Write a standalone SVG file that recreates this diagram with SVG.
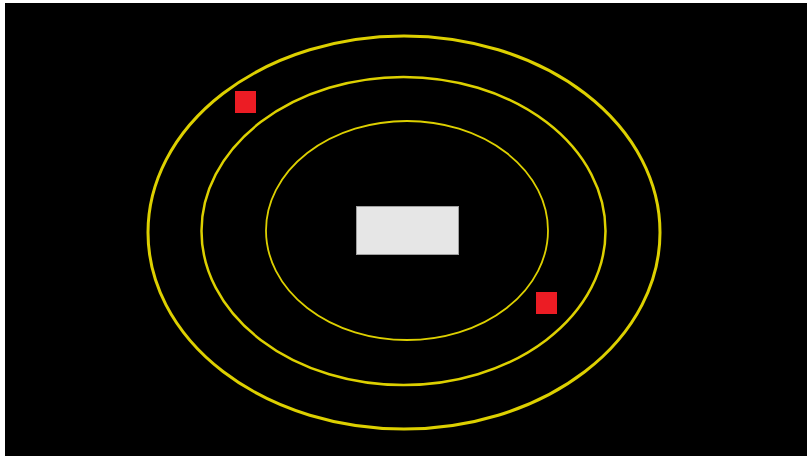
<svg xmlns="http://www.w3.org/2000/svg" width="807" height="456" viewBox="0 0 807 456">
<style>
.orbit{fill:none;stroke:#ddd000}
.planet{fill:#ec1c24}
</style>
<rect x="0" y="0" width="807" height="456" fill="#ffffff"/>
<rect x="5" y="3" width="802" height="453" fill="#000000"/>
<g id="orbits">
<ellipse id="orbit-outer" class="orbit" cx="404" cy="232.5" rx="256" ry="196.5" stroke-width="3"/>
<ellipse id="orbit-middle" class="orbit" cx="403.5" cy="231" rx="202" ry="154" stroke-width="2.5"/>
<ellipse id="orbit-inner" class="orbit" cx="407" cy="230.5" rx="141" ry="109.5" stroke-width="1.8"/>
</g>
<g id="sun"><rect x="356.5" y="206.5" width="102" height="48" fill="#e6e6e6" stroke="#a0a0a0" stroke-width="1"/></g>
<g id="planet1"><rect class="planet" x="235" y="91" width="21" height="22"/></g>
<g id="planet2"><rect class="planet" x="536" y="292" width="21" height="22"/></g>
</svg>
